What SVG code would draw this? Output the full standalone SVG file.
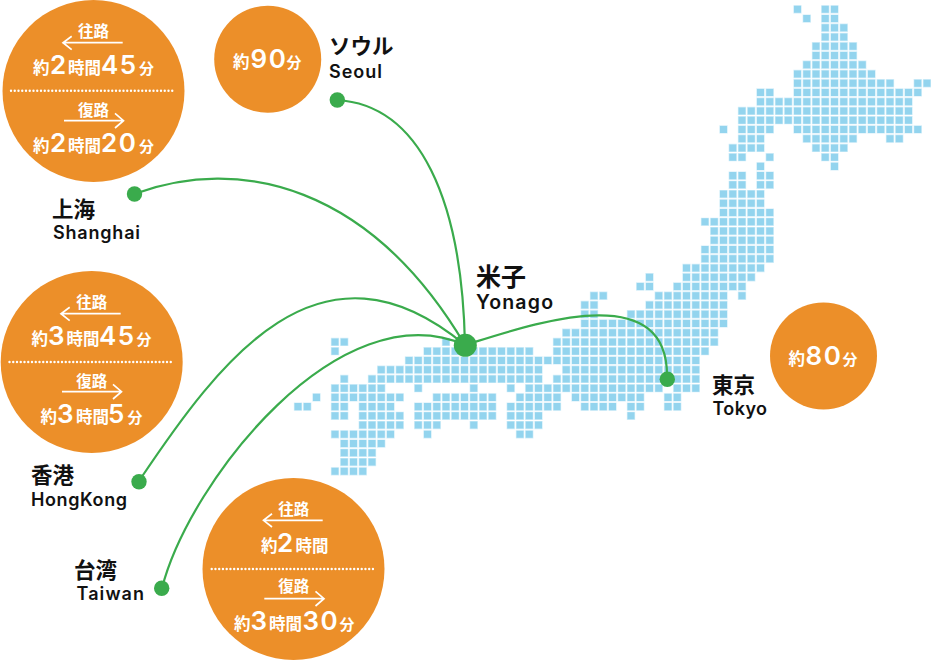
<svg xmlns="http://www.w3.org/2000/svg" width="931" height="661" viewBox="0 0 931 661">
<style>
.bg{fill:#fff}
.halo{fill:none;stroke:#d3eef9;stroke-width:.9;stroke-dasharray:.9 .1;stroke-dashoffset:-.05}
.cell{fill:none;stroke:#93d4ee;stroke-width:.76;stroke-dasharray:.76 .24;stroke-dashoffset:-.12}
.route{fill:none;stroke:#3aab4c;stroke-width:2.2}
.dot{fill:#3aab4c}
.disc{fill:#ec8f29}
.w{fill:none;stroke:#fff;stroke-width:1.7}
.dots{fill:none;stroke:#fff;stroke-width:2.4;stroke-linecap:round;stroke-dasharray:0 3.75}
text{font-family:"Noto Sans CJK JP","Noto Sans",sans-serif}
.t{fill:#fff;font-size:16.5px;font-weight:700}
.h{fill:#fff;font-size:15.5px;font-weight:700;text-anchor:middle}
.d{font-family:Inter,"Liberation Sans",sans-serif;font-size:26px;font-weight:600;letter-spacing:1.5px}
.m{font-size:15px}
.ja{fill:#111;font-size:21.5px;font-weight:700}
.en{fill:#111;font-family:Inter,"Liberation Sans",sans-serif;font-size:18px;font-weight:600}
</style>
<defs>
<path id="grid" d="M53.5 0H54.5M56.5 0H58.5M54.5 1H55.5M56.5 1H58.5M56.5 2H59.5M56.5 3H59.5M55.5 4H60.5M55.5 5H60.5M54.5 6H61.5M53.5 7H62.5M53.5 8H64.5M66.5 8H68.5M49.5 9H51.5M53.5 9H67.5M49.5 10H66.5M47.5 11H66.5M47.5 12H66.5M45.5 13H46.5M47.5 13H51.5M53.5 13H67.5M47.5 14H50.5M54.5 14H60.5M63.5 14H65.5M46.5 15H50.5M55.5 15H59.5M46.5 16H48.5M50.5 16H51.5M56.5 16H58.5M49.5 17H50.5M57.5 17H58.5M46.5 18H48.5M49.5 18H51.5M46.5 19H48.5M49.5 19H51.5M45.5 20H50.5M45.5 21H50.5M45.5 22H51.5M43.5 23H51.5M44.5 24H51.5M44.5 25H51.5M43.5 26H51.5M43.5 27H51.5M41.5 28H50.5M37.5 29H38.5M41.5 29H49.5M36.5 30H38.5M40.5 30H48.5M31.5 31H33.5M38.5 31H46.5M47.5 31H48.5M30.5 32H32.5M37.5 32H46.5M30.5 33H32.5M35.5 33H46.5M30.5 34H46.5M28.5 35H45.5M3.5 36H5.5M15.5 36H16.5M27.5 36H45.5M3.5 37H4.5M13.5 37H25.5M27.5 37H44.5M11.5 38H43.5M8.5 39H26.5M28.5 39H43.5M4.5 40H5.5M7.5 40H26.5M27.5 40H43.5M3.5 41H9.5M12.5 41H13.5M18.5 41H19.5M22.5 41H23.5M24.5 41H39.5M40.5 41H43.5M1.5 42H2.5M3.5 42H11.5M14.5 42H21.5M23.5 42H28.5M29.5 42H37.5M39.5 42H41.5M-.5 43H1.5M3.5 43H5.5M6.5 43H10.5M12.5 43H21.5M22.5 43H28.5M30.5 43H34.5M35.5 43H37.5M39.5 43H41.5M3.5 44H5.5M6.5 44H11.5M12.5 44H21.5M22.5 44H26.5M35.5 44H36.5M6.5 45H11.5M12.5 45H15.5M18.5 45H19.5M22.5 45H26.5M3.5 46H10.5M13.5 46H14.5M23.5 46H25.5M4.5 47H9.5M4.5 48H8.5M4.5 49H8.5M3.5 50H7.5"/>
</defs>
<rect class="bg" width="931" height="661"/>
<g id="map" transform="translate(298 9.3) scale(9.25 9.24)">
<use href="#grid" class="halo"/>
<use href="#grid" class="cell"/>
</g>
<g id="connectors">
<path class="route" d="M337 100C420 105 462 200 465 345"/>
<path class="route" d="M134 194C240 155 370 185 465 345"/>
<path class="route" d="M139 481C220 360 320 225 465 345"/>
<path class="route" d="M162 588C190 480 340 290 465 345"/>
<path class="route" d="M465 345C530 325 670 275 667 379"/>
</g>
<g id="node-yonago">
<circle class="dot" cx="465.3" cy="345.3" r="11.5"/>
<text class="ja" x="476" y="286" style="font-size:25px">米子</text>
<text class="en" x="476" y="309.3" textLength="77" style="font-size:19.5px">Yonago</text>
</g>
<g id="node-seoul">
<circle class="dot" cx="337.3" cy="100" r="7.7"/>
<text class="ja" x="329" y="54">ソウル</text>
<text class="en" x="329" y="77.5" textLength="53">Seoul</text>
</g>
<g id="node-shanghai">
<circle class="dot" cx="134.5" cy="194" r="7.7"/>
<text class="ja" x="52" y="217">上海</text>
<text class="en" x="53" y="239" textLength="87">Shanghai</text>
</g>
<g id="node-hongkong">
<circle class="dot" cx="139" cy="481.7" r="7.7"/>
<text class="ja" x="31" y="483">香港</text>
<text class="en" x="31" y="505.7" textLength="96">HongKong</text>
</g>
<g id="node-taiwan">
<circle class="dot" cx="161.7" cy="588.3" r="7.7"/>
<text class="ja" x="74" y="578">台湾</text>
<text class="en" x="76.5" y="600" textLength="67.5">Taiwan</text>
</g>
<g id="node-tokyo">
<circle class="dot" cx="667.3" cy="379.3" r="7.7"/>
<text class="ja" x="712" y="393">東京</text>
<text class="en" x="712.5" y="415" textLength="54.5">Tokyo</text>
</g>
<g id="time-shanghai">
<circle class="disc" cx="93.5" cy="91" r="91"/>
<text class="h" x="93.5" y="36.5">往路</text>
<path class="w" d="M122.7 42.7H63M71.7 36.3L63 42.7L71.7 49.7"/>
<text class="t" y="74"><tspan x="33">約</tspan><tspan class="d" x="50">2</tspan><tspan x="68">時間</tspan><tspan class="d" x="101">45</tspan><tspan class="m" x="139">分</tspan></text>
<path class="dots" d="M11 90.7H176"/>
<text class="h" x="93.5" y="115.5">復路</text>
<path class="w" d="M64 120.7H123.5M115 113.3L123.5 120.7L115 128"/>
<text class="t" y="152"><tspan x="33">約</tspan><tspan class="d" x="50">2</tspan><tspan x="68">時間</tspan><tspan class="d" x="101">20</tspan><tspan class="m" x="139">分</tspan></text>
</g>
<g id="time-hongkong">
<circle class="disc" cx="91.7" cy="362" r="91"/>
<text class="h" x="91.7" y="308">往路</text>
<path class="w" d="M120.7 313.7H61M69.7 307.3L61 313.7L69.7 320.7"/>
<text class="t" y="345"><tspan x="31.5">約</tspan><tspan class="d" x="48">3</tspan><tspan x="66.5">時間</tspan><tspan class="d" x="99">45</tspan><tspan class="m" x="136.5">分</tspan></text>
<path class="dots" d="M9.5 362H174"/>
<text class="h" x="91.7" y="386.8">復路</text>
<path class="w" d="M62 391.7H121.5M113 384.3L121.5 391.7L113 399"/>
<text class="t" y="422.7"><tspan x="40.5">約</tspan><tspan class="d" x="57">3</tspan><tspan x="76">時間</tspan><tspan class="d" x="108">5</tspan><tspan class="m" x="127.5">分</tspan></text>
</g>
<g id="time-taiwan">
<circle class="disc" cx="293.5" cy="569" r="91"/>
<text class="h" x="293.8" y="514.5">往路</text>
<path class="w" d="M322.7 520.3H263.5M272 513.8L263.5 520.3L272 527"/>
<text class="t" y="551.7"><tspan x="261">約</tspan><tspan class="d" x="277">2</tspan><tspan x="295.5">時間</tspan></text>
<path class="dots" d="M211.7 569H376"/>
<text class="h" x="293.8" y="592">復路</text>
<path class="w" d="M264.3 598.7H324M315.5 591.3L324 598.7L315.5 606"/>
<text class="t" y="630"><tspan x="234">約</tspan><tspan class="d" x="250.5">3</tspan><tspan x="269">時間</tspan><tspan class="d" x="302.5">30</tspan><tspan class="m" x="339.5">分</tspan></text>
</g>
<g id="time-seoul">
<circle class="disc" cx="267.7" cy="59.3" r="53.5"/>
<text class="t" y="68.3"><tspan x="233">約</tspan><tspan class="d" x="250.5">90</tspan><tspan class="m" x="286.5">分</tspan></text>
</g>
<g id="time-tokyo">
<circle class="disc" cx="823.5" cy="356" r="53.5"/>
<text class="t" y="365"><tspan x="788.5">約</tspan><tspan class="d" x="805.5">80</tspan><tspan class="m" x="842.5">分</tspan></text>
</g>
</svg>
